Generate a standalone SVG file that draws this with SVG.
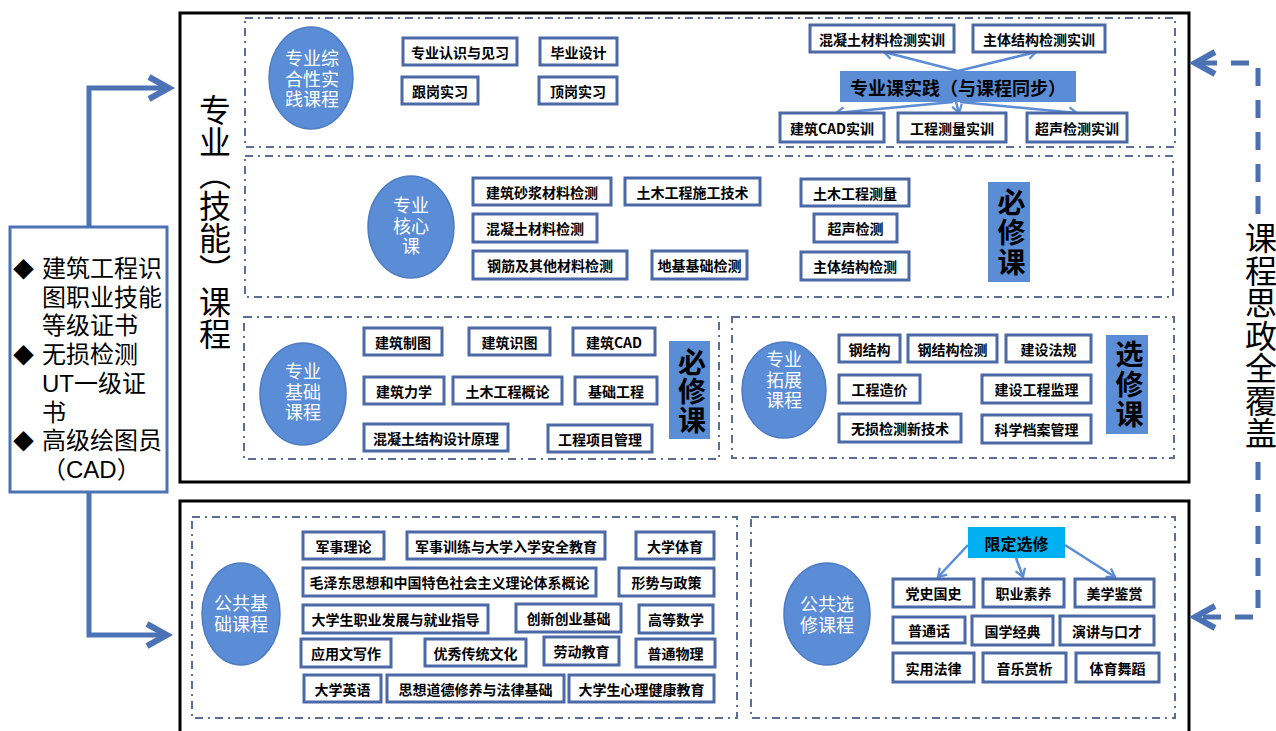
<svg xmlns="http://www.w3.org/2000/svg" width="1276" height="731" viewBox="0 0 1276 731">
<style>
.bg{fill:#fff}
.outer{fill:#fff;stroke:#000;stroke-width:3}
.sec{fill:none;stroke:#5a6e98;stroke-width:2;stroke-dasharray:8 5 2 5}
.box rect{fill:#fff;stroke:#4a69a6;stroke-width:3}
.box text,.bt{font-family:"Noto Sans CJK SC","Microsoft YaHei",sans-serif;font-size:14px;font-weight:700;fill:#000;text-anchor:middle;dominant-baseline:central}
.ell ellipse{fill:#5b8cd6;stroke:#4e7cc2;stroke-width:1.5}
.ell text{font-family:"Liberation Sans","Noto Sans CJK SC",sans-serif;font-size:18px;fill:#fff;text-anchor:middle;dominant-baseline:central}
.tag rect{fill:#5b8cd6}
.tag text{font-family:"Liberation Sans","Noto Sans CJK SC",sans-serif;font-size:28px;font-weight:700;fill:#000;writing-mode:vertical-rl}
.big{font-family:"Liberation Sans","Noto Sans CJK SC",sans-serif;font-size:32px;fill:#000;writing-mode:vertical-rl}
.bigr{font-family:"Liberation Sans","Noto Sans CJK SC",sans-serif;font-size:32px;fill:#000;writing-mode:vertical-rl;letter-spacing:0.5px}
.cert{font-family:"Liberation Sans","Noto Sans CJK SC",sans-serif;font-size:24px;fill:#000}
.solid{fill:none;stroke:#4a72b4;stroke-width:5}
.dash{fill:none;stroke:#4a70b0;stroke-width:5;stroke-dasharray:18 14}
.thin{fill:none;stroke:#5b8cd6;stroke-width:2.5}
</style>
<defs>
<marker id="ah" viewBox="-30 -16 36 32" refX="0" refY="0" markerWidth="36" markerHeight="32" markerUnits="userSpaceOnUse" orient="auto">
<path d="M-20,-11 L0,0 L-20,11" fill="none" stroke="#4a72b4" stroke-width="6"/>
</marker>
<marker id="as" viewBox="-12 -8 16 16" refX="0" refY="0" markerWidth="16" markerHeight="16" markerUnits="userSpaceOnUse" orient="auto">
<path d="M-8,-5 L0,0 L-8,5" fill="none" stroke="#5b8cd6" stroke-width="2.2"/>
</marker>
</defs>
<rect class="bg" x="0" y="0" width="1276" height="731"/>

<g id="frames">
<rect class="outer" x="180" y="13" width="1009" height="469"/>
<rect class="outer" x="180" y="501" width="1009" height="240"/>
<rect class="sec" x="245" y="18" width="930" height="129"/>
<rect class="sec" x="245" y="156" width="928" height="141"/>
<rect class="sec" x="244" y="317" width="475" height="142"/>
<rect class="sec" x="732" y="317" width="442" height="141"/>
<rect class="sec" x="192" y="517" width="545" height="201"/>
<rect class="sec" x="751" y="517" width="424" height="201"/>
</g>

<g id="title-professional"><text class="big" x="212" y="94">专业︵技能︶课程</text></g>
<g id="title-ideology"><text class="bigr" x="1258" y="222">课程思政全覆盖</text></g>

<g id="certificates">
<rect x="10" y="227" width="157" height="265" fill="#fff" stroke="#4a72b4" stroke-width="3"/>
<text class="cert"><tspan x="13" y="277" font-size="21">◆</tspan><tspan x="42" y="277">建筑工程识</tspan><tspan x="42" y="305.7">图职业技能</tspan><tspan x="42" y="334.4">等级证书</tspan><tspan x="13" y="363.1" font-size="21">◆</tspan><tspan x="42" y="363.1">无损检测</tspan><tspan x="42" y="391.8">UT一级证</tspan><tspan x="42" y="420.5">书</tspan><tspan x="13" y="449.2" font-size="21">◆</tspan><tspan x="42" y="449.2">高级绘图员</tspan><tspan x="42" y="477.9">（CAD）</tspan></text>
</g>

<g id="connectors">
<path class="solid" d="M89,227 V88 H169" marker-end="url(#ah)"/>
<path class="solid" d="M89,492 V635 H167" marker-end="url(#ah)"/>
<path class="dash" d="M1258,214 V63 H1195" marker-end="url(#ah)"/>
<path class="dash" d="M1258,462 V617 H1195" marker-end="url(#ah)"/>
<path class="thin" d="M958,71 L884,52" marker-end="url(#as)"/>
<path class="thin" d="M958,71 L1036,52" marker-end="url(#as)"/>
<path class="thin" d="M953,102 L836,113" marker-end="url(#as)"/>
<path class="thin" d="M956,102 L959,113" marker-end="url(#as)"/>
<path class="thin" d="M960,102 L1077,113" marker-end="url(#as)"/>
<path class="thin" d="M968,545 L938,577" marker-end="url(#as)"/>
<path class="thin" d="M1016,558 L1023,577" marker-end="url(#as)"/>
<path class="thin" d="M1065,545 L1115,577" marker-end="url(#as)"/>
</g>

<!-- Section 1 -->
<g id="n-zhsj" class="ell"><ellipse cx="311" cy="78" rx="42" ry="51"/><text x="312" y="59">专业综</text><text x="312" y="79.5">合性实</text><text x="312" y="100">践课程</text></g>
<g id="n-rszx" class="box"><rect x="403" y="38" width="114" height="27"/><text x="460" y="51.5">专业认识与见习</text></g>
<g id="n-bysj" class="box"><rect x="540" y="38" width="77" height="27"/><text x="578.5" y="51.5">毕业设计</text></g>
<g id="n-ggsx" class="box"><rect x="402" y="77" width="76" height="27"/><text x="440" y="90.5">跟岗实习</text></g>
<g id="n-dgsx" class="box"><rect x="539" y="77" width="78" height="27"/><text x="578" y="90.5">顶岗实习</text></g>
<g id="n-hntsx" class="box"><rect x="810" y="25" width="144" height="27"/><text x="882" y="38.5">混凝土材料检测实训</text></g>
<g id="n-ztsx" class="box"><rect x="973" y="25" width="132" height="27"/><text x="1039" y="38.5">主体结构检测实训</text></g>
<g id="n-zyksj"><rect x="840" y="71" width="236" height="31" fill="#5b8cd6"/><text class="bt" x="958" y="86.5" style="font-size:18px">专业课实践（与课程同步）</text></g>
<g id="n-cadsx" class="box"><rect x="780" y="113" width="104" height="29"/><text x="832" y="127.5">建筑CAD实训</text></g>
<g id="n-clsx" class="box"><rect x="898" y="113" width="108" height="29"/><text x="952" y="127.5">工程测量实训</text></g>
<g id="n-cssx" class="box"><rect x="1027" y="113" width="100" height="29"/><text x="1077" y="127.5">超声检测实训</text></g>

<!-- Section 2 -->
<g id="n-hxk" class="ell"><ellipse cx="411" cy="227" rx="43" ry="51"/><text x="411" y="206">专业</text><text x="411" y="226.5">核心</text><text x="411" y="247">课</text></g>
<g id="n-szjc" class="box"><rect x="473" y="178" width="138" height="27"/><text x="542" y="191.5">建筑砂浆材料检测</text></g>
<g id="n-sgjs" class="box"><rect x="625" y="178" width="135" height="27"/><text x="692.5" y="191.5">土木工程施工技术</text></g>
<g id="n-gccl" class="box"><rect x="801" y="179" width="108" height="27"/><text x="855" y="192.5">土木工程测量</text></g>
<g id="n-hntjc" class="box"><rect x="473" y="214" width="124" height="28"/><text x="535" y="228">混凝土材料检测</text></g>
<g id="n-csjc" class="box"><rect x="814" y="214" width="83" height="28"/><text x="855.5" y="228">超声检测</text></g>
<g id="n-gjjc" class="box"><rect x="473" y="251" width="154" height="28"/><text x="550" y="265">钢筋及其他材料检测</text></g>
<g id="n-djjc" class="box"><rect x="652" y="251" width="95" height="28"/><text x="699.5" y="265">地基基础检测</text></g>
<g id="n-ztjc" class="box"><rect x="801" y="252" width="108" height="28"/><text x="855" y="266">主体结构检测</text></g>
<g id="n-bxk1" class="tag"><rect x="988" y="182" width="42" height="100"/><text x="1009" y="188" style="letter-spacing:2px">必修课</text></g>

<!-- Section 3 left -->
<g id="n-jckc" class="ell"><ellipse cx="303" cy="394" rx="43" ry="51"/><text x="303" y="372">专业</text><text x="303" y="392.5">基础</text><text x="303" y="413">课程</text></g>
<g id="n-jzzt" class="box"><rect x="364" y="328" width="78" height="27"/><text x="403" y="341.5">建筑制图</text></g>
<g id="n-jzst" class="box"><rect x="469" y="328" width="81" height="27"/><text x="509.5" y="341.5">建筑识图</text></g>
<g id="n-jzcad" class="box"><rect x="573" y="328" width="82" height="27"/><text x="614" y="341.5">建筑CAD</text></g>
<g id="n-jzlx" class="box"><rect x="364" y="377" width="80" height="27"/><text x="404" y="390.5">建筑力学</text></g>
<g id="n-tmgl" class="box"><rect x="453" y="377" width="109" height="27"/><text x="507.5" y="390.5">土木工程概论</text></g>
<g id="n-jcgc" class="box"><rect x="575" y="377" width="82" height="27"/><text x="616" y="390.5">基础工程</text></g>
<g id="n-hntjg" class="box"><rect x="364" y="424" width="144" height="27"/><text x="436" y="437.5">混凝土结构设计原理</text></g>
<g id="n-xmgl" class="box"><rect x="548" y="425" width="104" height="27"/><text x="600" y="438.5">工程项目管理</text></g>
<g id="n-bxk2" class="tag"><rect x="669" y="341" width="41" height="98"/><text x="689.5" y="348" style="letter-spacing:1px">必修课</text></g>

<!-- Section 3 right -->
<g id="n-tzkc" class="ell"><ellipse cx="784" cy="390" rx="42" ry="48"/><text x="784" y="360">专业</text><text x="784" y="380.5">拓展</text><text x="784" y="401">课程</text></g>
<g id="n-gjg" class="box"><rect x="839" y="335" width="61" height="27"/><text x="869.5" y="348.5">钢结构</text></g>
<g id="n-gjgjc" class="box"><rect x="908" y="335" width="89" height="27"/><text x="952.5" y="348.5">钢结构检测</text></g>
<g id="n-jsfg" class="box"><rect x="1006" y="335" width="85" height="27"/><text x="1048.5" y="348.5">建设法规</text></g>
<g id="n-gczj" class="box"><rect x="839" y="375" width="81" height="28"/><text x="879.5" y="389">工程造价</text></g>
<g id="n-gcjl" class="box"><rect x="982" y="375" width="109" height="28"/><text x="1036.5" y="389">建设工程监理</text></g>
<g id="n-wsxjs" class="box"><rect x="839" y="414" width="122" height="28"/><text x="900" y="428">无损检测新技术</text></g>
<g id="n-dagl" class="box"><rect x="982" y="415" width="109" height="28"/><text x="1036.5" y="429">科学档案管理</text></g>
<g id="n-xxk" class="tag"><rect x="1106" y="335" width="42" height="99"/><text x="1127" y="340" style="letter-spacing:2px">选修课</text></g>

<!-- Bottom left -->
<g id="n-ggjc" class="ell"><ellipse cx="241" cy="614" rx="39" ry="51"/><text x="241" y="604">公共基</text><text x="241" y="624.5">础课程</text></g>
<g id="n-p1" class="box"><rect x="303" y="532" width="81" height="27"/><text x="343.5" y="545.5">军事理论</text></g>
<g id="n-p2" class="box"><rect x="407" y="532" width="198" height="27"/><text x="506" y="545.5">军事训练与大学入学安全教育</text></g>
<g id="n-p3" class="box"><rect x="636" y="532" width="78" height="27"/><text x="675" y="545.5">大学体育</text></g>
<g id="n-p4" class="box"><rect x="303" y="568" width="293" height="28"/><text x="449.5" y="582">毛泽东思想和中国特色社会主义理论体系概论</text></g>
<g id="n-p5" class="box"><rect x="619" y="568" width="95" height="28"/><text x="666.5" y="582">形势与政策</text></g>
<g id="n-p6" class="box"><rect x="303" y="605" width="185" height="28"/><text x="395.5" y="619">大学生职业发展与就业指导</text></g>
<g id="n-p7" class="box"><rect x="516" y="604" width="105" height="28"/><text x="568.5" y="618">创新创业基础</text></g>
<g id="n-p8" class="box"><rect x="639" y="605" width="74" height="28"/><text x="676" y="619">高等数学</text></g>
<g id="n-p9" class="box"><rect x="301" y="639" width="90" height="28"/><text x="346" y="653">应用文写作</text></g>
<g id="n-p10" class="box"><rect x="425" y="639" width="101" height="27"/><text x="475.5" y="652.5">优秀传统文化</text></g>
<g id="n-p11" class="box"><rect x="544" y="637" width="75" height="28"/><text x="581.5" y="651">劳动教育</text></g>
<g id="n-p12" class="box"><rect x="636" y="639" width="79" height="28"/><text x="675.5" y="653">普通物理</text></g>
<g id="n-p13" class="box"><rect x="304" y="675" width="77" height="27"/><text x="342.5" y="688.5">大学英语</text></g>
<g id="n-p14" class="box"><rect x="387" y="675" width="177" height="27"/><text x="475.5" y="688.5">思想道德修养与法律基础</text></g>
<g id="n-p15" class="box"><rect x="569" y="675" width="145" height="27"/><text x="641.5" y="688.5">大学生心理健康教育</text></g>

<!-- Bottom right -->
<g id="n-ggxx" class="ell"><ellipse cx="827" cy="614" rx="43" ry="51"/><text x="827" y="605">公共选</text><text x="827" y="625.5">修课程</text></g>
<g id="n-xdxx"><rect x="968" y="527" width="97" height="31" fill="#00b0f0"/><text class="bt" x="1016.5" y="542.5" style="font-size:16px">限定选修</text></g>
<g id="n-q1" class="box"><rect x="893" y="579" width="81" height="28"/><text x="933.5" y="593">党史国史</text></g>
<g id="n-q2" class="box"><rect x="983" y="579" width="81" height="28"/><text x="1023.5" y="593">职业素养</text></g>
<g id="n-q3" class="box"><rect x="1075" y="579" width="79" height="28"/><text x="1114.5" y="593">美学鉴赏</text></g>
<g id="n-q4" class="box"><rect x="893" y="617" width="72" height="26"/><text x="929" y="630">普通话</text></g>
<g id="n-q5" class="box"><rect x="972" y="616" width="81" height="29"/><text x="1012.5" y="630.5">国学经典</text></g>
<g id="n-q6" class="box"><rect x="1060" y="616" width="94" height="29"/><text x="1107" y="630.5">演讲与口才</text></g>
<g id="n-q7" class="box"><rect x="893" y="653" width="81" height="29"/><text x="933.5" y="667.5">实用法律</text></g>
<g id="n-q8" class="box"><rect x="983" y="653" width="83" height="29"/><text x="1024.5" y="667.5">音乐赏析</text></g>
<g id="n-q9" class="box"><rect x="1076" y="653" width="83" height="29"/><text x="1117.5" y="667.5">体育舞蹈</text></g>
</svg>
